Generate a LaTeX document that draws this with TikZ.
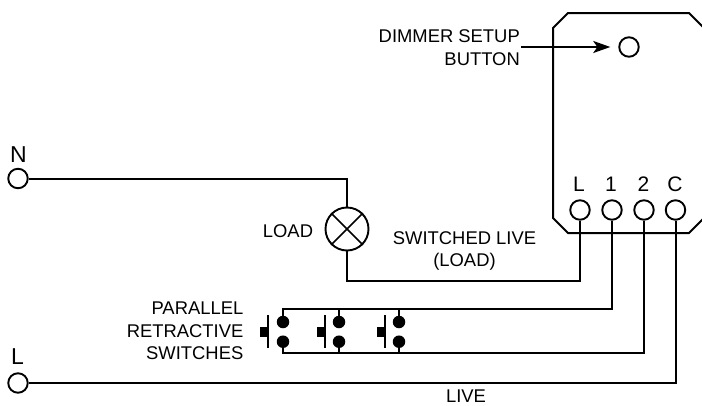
\documentclass[tikz,border=0pt]{standalone}
\usepackage{fontspec}
\setmainfont{Liberation Sans}
\usetikzlibrary{arrows.meta}
\tikzset{
  x=1pt,y=-1pt,
  wire/.style={line width=2pt,line join=miter},
  term/.style={circle,draw,line width=1.9pt,fill=white,minimum size=19.5pt,inner sep=0pt},
  dot/.style={circle,fill=black,minimum size=12.5pt,inner sep=0pt},
  lbl/.style={inner sep=0pt,font=\fontsize{18.4}{22.5}\selectfont},
  big/.style={inner sep=0pt,font=\fontsize{21}{24}\selectfont},
  huge label/.style={inner sep=0pt,font=\fontsize{23}{26}\selectfont}
}
\begin{document}
\begin{tikzpicture}
\useasboundingbox (0,0) rectangle (702,405);
\begin{scope}
\clip (0,0) rectangle (702,405);
\draw[wire] (553,28) -- (568,13) -- (689,13) -- (704,28) -- (704,218) -- (689,233) -- (568,233) -- (553,218) -- cycle;
\end{scope}
% free wire ends
\coordinate (nc) at (347,178.5);
\coordinate (lc) at (347,281);
\coordinate (lt) at (580,281);
\coordinate (c1) at (612,309.3);
\coordinate (c2) at (644,353);
\coordinate (cL) at (675.5,383);
\coordinate (pu) at (283,309.3);
\coordinate (pd) at (283,353);
\coordinate (bu) at (339,309.3);
\coordinate (bd) at (339,353);
\coordinate (cu) at (399,309.3);
\coordinate (cd) at (399,353);
\coordinate (arr) at (521,47);
% switch contacts
\node[dot] (au) at (283,322) {};
\node[dot] (ad) at (283,341.7) {};
\node[dot] (du) at (339,322) {};
\node[dot] (dd) at (339,341.7) {};
\node[dot] (eu) at (399,322) {};
\node[dot] (ed) at (399,341.7) {};
% terminals and button
\node[term] (btn) at (629,47) {};
\node[term] (tL) at (580,210) {};
\node[term] (t1) at (612,210) {};
\node[term] (t2) at (644,210) {};
\node[term] (tC) at (675.5,210) {};
\node[term] (N) at (18,178.5) {};
\node[term] (Lin) at (18,383) {};
\node[term,minimum size=43pt] (lamp) at (347,229) {};
\draw[line width=1.7pt] (lamp.north west) -- (lamp.south east) (lamp.north east) -- (lamp.south west);
% wires
\draw[wire] (N) -- (nc) -- (lamp);
\draw[wire] (lamp) -- (lc) -- (lt) -- (tL);
\draw[wire] (t1) -- (c1) -- (pu) -- (au);
\draw[wire] (t2) -- (c2) -- (pd) -- (ad);
\draw[wire] (bu) -- (du);
\draw[wire] (bd) -- (dd);
\draw[wire] (cu) -- (eu);
\draw[wire] (cd) -- (ed);
\draw[wire] (Lin) -- (cL) -- (tC);
% push-button bars
\foreach \x in {268,325,384.5}{
  \draw[wire] (\x,315) -- (\x,348);
  \fill (\x-8,326.5) rectangle (\x,337);
}
% arrow
\draw[wire,-{Stealth[length=17pt,width=12pt,inset=4pt]},shorten >=8pt] (arr) -- (btn);
% labels
\node[lbl,align=right,anchor=east] (t0) at (520,47.5) {DIMMER SETUP\\BUTTON};
\node[huge label] (ln) at (18.5,154.5) {N};
\node[huge label] (ll) at (17.5,356.5) {L};
\node[big] (l0) at (579,184.5) {L};
\node[big] (l1) at (611,184.5) {1};
\node[big] (l2) at (643.5,184.5) {2};
\node[big] (l3) at (675,184.5) {C};
\node[lbl] (load) at (288,231.5) {LOAD};
\node[lbl,align=center] (sw) at (464.5,251) {SWITCHED LIVE\\(LOAD)};
\node[lbl,align=right,anchor=east] (par) at (243.5,331) {PARALLEL\\RETRACTIVE\\SWITCHES};
\node[lbl] (live) at (466,396.5) {LIVE};
\end{tikzpicture}
\end{document}
